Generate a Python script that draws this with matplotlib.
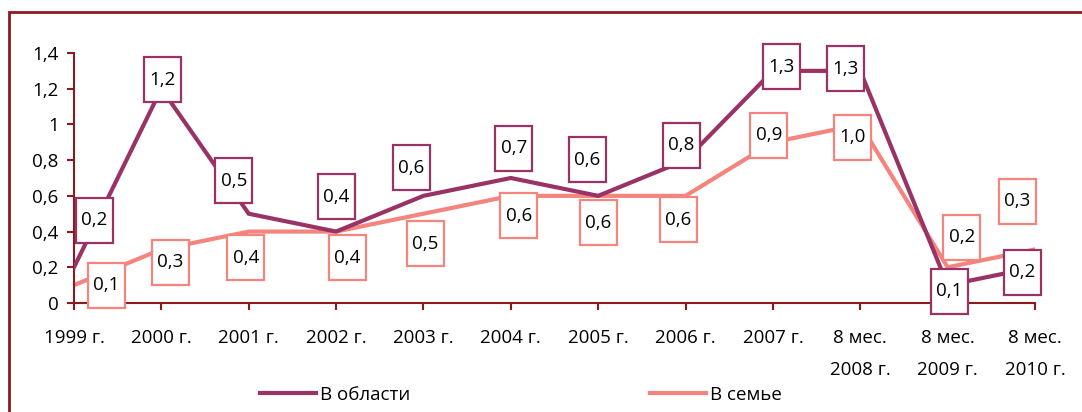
import matplotlib.pyplot as plt
from matplotlib.patches import Rectangle
from matplotlib.path import Path

plt.rcParams['font.family'] = ['Open Sans', 'DejaVu Sans']

# data
categories = ['1999 г.', '2000 г.', '2001 г.', '2002 г.', '2003 г.', '2004 г.',
              '2005 г.', '2006 г.', '2007 г.', '8 мес.\n2008 г.',
              '8 мес.\n2009 г.', '8 мес.\n2010 г.']
oblast = [0.2, 1.2, 0.5, 0.4, 0.6, 0.7, 0.6, 0.8, 1.3, 1.3, 0.1, 0.2]
semya = [0.1, 0.3, 0.4, 0.4, 0.5, 0.6, 0.6, 0.6, 0.9, 1.0, 0.2, 0.3]
y_ticks = [0, 0.2, 0.4, 0.6, 0.8, 1, 1.2, 1.4]

# label offsets from each point, in pixels (manual placement as in the original)
oblast_off = [(20, 47), (1, 9), (-15, 33), (0, 35), (-12, 28), (3, 30),
              (-11, 36), (-4, 15), (9, 4), (-15, 2), (2, -6), (-13, -5)]
semya_off = [(32, 0), (9, -13), (-3, -26), (11, -26), (2, -30), (8, -20),
             (0, -27), (-7, -24), (-4, 7), (-8, -13), (14, 30), (-18, 48)]

c_obl = '#993366'
c_sem = '#F4847E'
c_axis = '#8B1A1F'
fs = 13.5


def fixed_box(x0, y0, width, height, mutation_size):
    # label box with a fixed size in pixels, centered on the text
    cx = x0 + width / 2
    cy = y0 + height / 2
    w, h = 37, 45
    verts = [(cx - w / 2, cy - h / 2), (cx + w / 2, cy - h / 2),
             (cx + w / 2, cy + h / 2), (cx - w / 2, cy + h / 2),
             (cx - w / 2, cy - h / 2)]
    return Path(verts, closed=True)


fig = plt.figure(figsize=(10.82, 4.12), dpi=100)
ax = fig.add_axes([74 / 1082, 1 - 303 / 412, (1035 - 74) / 1082, 250 / 412])

x = list(range(len(categories)))
ax.plot(x, semya, color=c_sem, lw=3, label='В семье', solid_joinstyle='miter', zorder=2)
ax.plot(x, oblast, color=c_obl, lw=3, label='В области', solid_joinstyle='miter', zorder=3)


def fmt(v):
    return f'{v:.1f}'.replace('.', ',')


for vals, offs, col in [(oblast, oblast_off, c_obl), (semya, semya_off, c_sem)]:
    for i, v in enumerate(vals):
        ax.annotate(fmt(v), (i, v), xytext=offs[i], textcoords='offset pixels',
                    ha='center', va='center', fontsize=fs, color='black',
                    bbox=dict(boxstyle=fixed_box, fc='white', ec=col, lw=1.6),
                    zorder=5, annotation_clip=False)

ax.set_xlim(0, len(categories) - 1)
ax.set_ylim(0, 1.4)
ax.set_xticks(x)
ax.set_xticklabels(categories, linespacing=1.95, va='top')
ax.set_yticks(y_ticks)
ax.set_yticklabels([fmt(t).replace(',0', '') if t in (0, 1) else fmt(t) for t in y_ticks])

for s in ['top', 'right']:
    ax.spines[s].set_visible(False)
for s in ['left', 'bottom']:
    ax.spines[s].set_color(c_axis)
    ax.spines[s].set_linewidth(1.5)
ax.tick_params(axis='both', colors=c_axis, length=5, width=1.5, labelcolor='black',
               labelsize=fs)
ax.tick_params(axis='x', pad=14)
ax.tick_params(axis='y', pad=6)

handles, labels = ax.get_legend_handles_labels()
fig.legend(handles[::-1], labels[::-1], ncol=2, loc='center',
           bbox_to_anchor=(521 / 1082, 1 - 395 / 412), frameon=False,
           fontsize=fs, handlelength=3.0, handletextpad=0.2, columnspacing=12.8)

# outer frame, cut off at right and bottom like the original
fig.patches.append(Rectangle((9 / 1082, -0.2), 1.2, 0.2 + (412 - 12) / 412,
                             transform=fig.transFigure, fill=False,
                             ec=c_axis, lw=2, zorder=0))

fig.savefig('out.png', dpi=100)
